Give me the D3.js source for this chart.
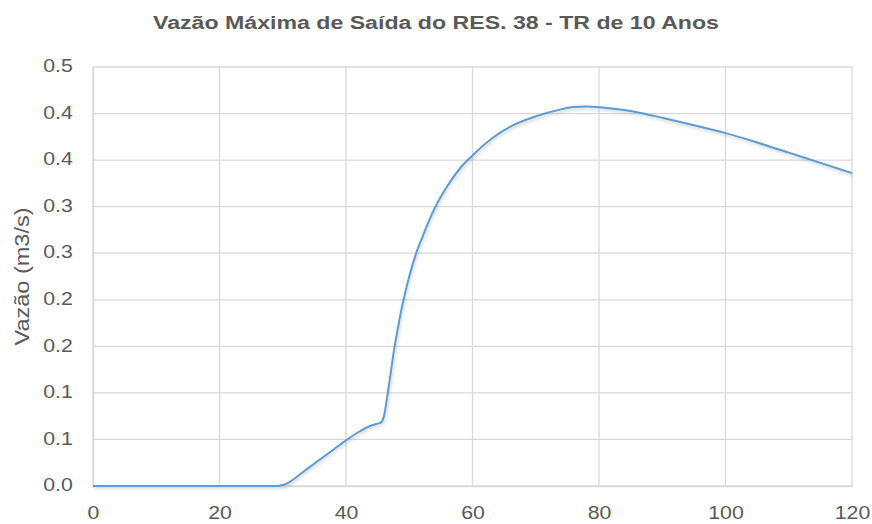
<!DOCTYPE html>
<html>
<head>
<meta charset="utf-8">
<script src="https://cdn.jsdelivr.net/npm/d3@7"></script>
<style>
  body { margin: 0; background: #fff; }
  text { font-family: "Liberation Sans", Arial, sans-serif; fill: #595959; }
</style>
</head>
<body>
<svg id="chart1"></svg>
<script>
let w = 872;
let h = 524;

// tempo (min)
let times = [0, 10, 20, 29, 30, 31, 33, 35, 38, 40, 42, 44, 45, 45.5, 46, 46.5, 47, 47.5, 48, 49, 50, 51,
  52, 54, 56, 58, 60, 63, 66, 70, 74, 76, 78, 80, 83, 86, 90, 95, 100, 105, 110, 115, 120];
// vazão (m3/s)
let flows = [0, 0, 0, 0, 0.001, 0.004, 0.014, 0.024, 0.039, 0.049, 0.058, 0.065, 0.067, 0.068, 0.075, 0.095,
  0.118, 0.142, 0.162, 0.197, 0.225, 0.248, 0.266, 0.298, 0.322, 0.341, 0.355, 0.373, 0.386, 0.397, 0.4045,
  0.407, 0.4075, 0.4068, 0.4045, 0.4015, 0.3955, 0.3875, 0.379, 0.369, 0.358, 0.347, 0.336];

let yTicks = [0, 0.05, 0.1, 0.15, 0.2, 0.25, 0.3, 0.35, 0.4, 0.45];
let yTickLabels = ['0.0', '0.1', '0.1', '0.2', '0.2', '0.3', '0.3', '0.4', '0.4', '0.5'];
let xTicks = [0, 20, 40, 60, 80, 100, 120];

let title = 'Vazão Máxima de Saída do RES. 38 - TR de 10 Anos';
let yTitle = 'Vazão (m3/s)';

function initGraph() {
  let dataset = times.map((t, i) => ({ t: t, q: flows[i] }));

  let svg = d3.select('#chart1')
    .attr('width', w)
    .attr('height', h);

  let xScale = d3.scaleLinear().domain([0, 120]).range([93, 852]);
  let yScale = d3.scaleLinear().domain([0, 0.45]).range([486, 67]);

  // grid
  svg.append('g').selectAll('line')
    .data(yTicks)
    .enter().append('line')
    .attr('x1', xScale(0)).attr('x2', xScale(120))
    .attr('y1', d => yScale(d)).attr('y2', d => yScale(d))
    .attr('stroke', '#d9d9d9').attr('stroke-width', 1.3);

  svg.append('g').selectAll('line')
    .data(xTicks)
    .enter().append('line')
    .attr('x1', d => xScale(d)).attr('x2', d => xScale(d))
    .attr('y1', yScale(0)).attr('y2', yScale(0.45))
    .attr('stroke', '#d9d9d9').attr('stroke-width', 1.3);

  let xAxis = d3.axisBottom(xScale).tickValues(xTicks).tickSize(0).tickPadding(20);
  let yAxis = d3.axisLeft(yScale).tickValues(yTicks)
    .tickFormat((d, i) => yTickLabels[i]).tickSize(0).tickPadding(18);

  let xAxisGroup = svg.append('g')
    .attr('transform', `translate(0, ${yScale(0)})`)
    .call(xAxis);
  let yAxisGroup = svg.append('g')
    .attr('transform', `translate(${xScale(0)}, 0)`)
    .call(yAxis);

  [xAxisGroup, yAxisGroup].forEach(g => {
    g.select('.domain').attr('stroke', '#d9d9d9').attr('stroke-width', 1.3);
    g.selectAll('text')
      .style('font-family', '"Liberation Sans", Arial, sans-serif')
      .style('font-size', '19px')
      .attr('fill', '#595959')
      .attr('transform', 'scale(1.12,1)');
  });
  yAxisGroup.selectAll('text').attr('dy', '0.25em');

  let defs = svg.append('defs');
  defs.append('filter').attr('id', 'shadow')
    .attr('x', '-5%').attr('y', '-5%').attr('width', '110%').attr('height', '120%')
    .append('feDropShadow')
    .attr('dx', 1).attr('dy', 2).attr('stdDeviation', 1.5)
    .attr('flood-color', '#000').attr('flood-opacity', 0.18);

  let lineFunction = d3.line()
    .x(d => xScale(d.t))
    .y(d => yScale(d.q))
    .curve(d3.curveMonotoneX);

  svg.append('path')
    .attr('d', lineFunction(dataset))
    .attr('stroke', '#5b9bd5')
    .attr('stroke-width', 2)
    .attr('fill', 'none')
    .attr('filter', 'url(#shadow)');

  svg.append('text')
    .attr('x', 436).attr('y', 29)
    .attr('text-anchor', 'middle')
    .attr('textLength', 566)
    .attr('lengthAdjust', 'spacingAndGlyphs')
    .style('font-size', '18px')
    .style('font-weight', 'bold')
    .text(title);

  svg.append('text')
    .attr('transform', `translate(29, ${(yScale(0) + yScale(0.45)) / 2}) rotate(-90)`)
    .attr('text-anchor', 'middle')
    .attr('textLength', 138)
    .attr('lengthAdjust', 'spacingAndGlyphs')
    .style('font-size', '20px')
    .text(yTitle);
}

window.onload = initGraph;
</script>
</body>
</html>
